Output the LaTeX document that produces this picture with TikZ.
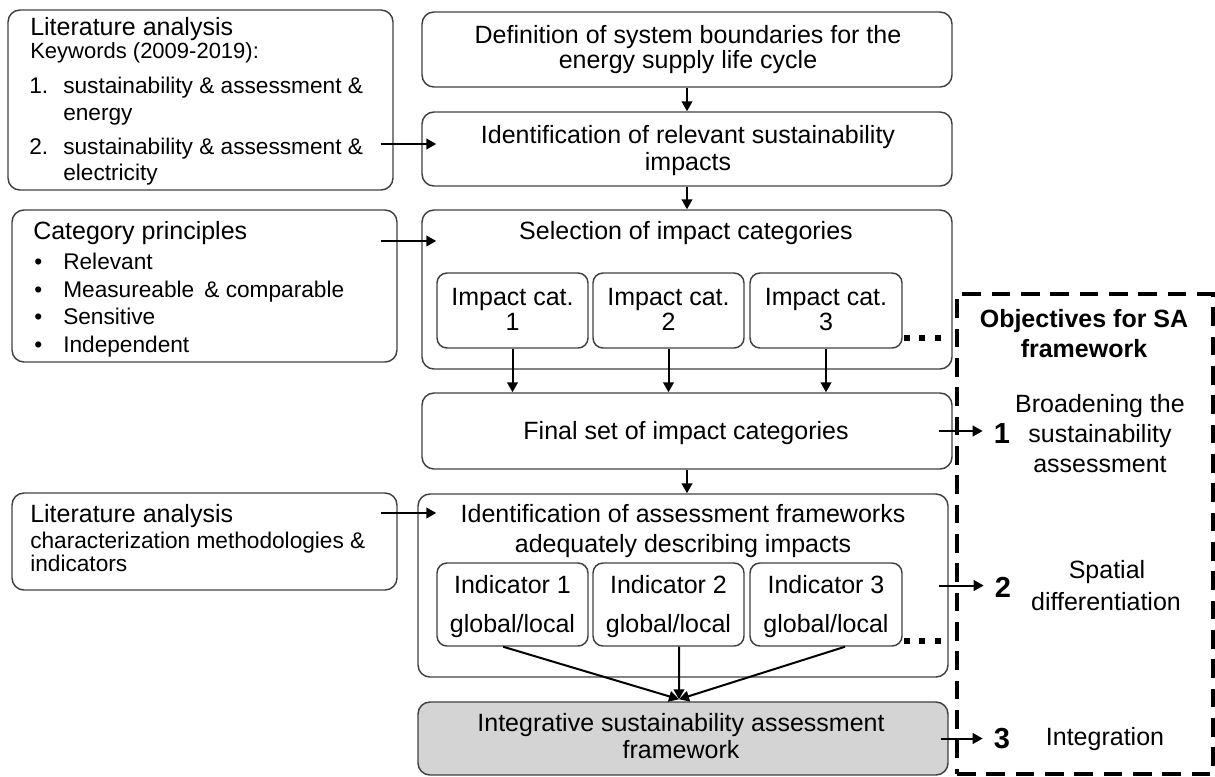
\documentclass[tikz,border=0pt]{standalone}
\usepackage{fontspec}
\setmainfont{Liberation Sans}
\usetikzlibrary{arrows.meta,fit,calc}
\begin{document}
\begin{tikzpicture}[x=0.75pt,y=-0.75pt,
  box/.style={draw=black!75, line width=1.1pt, rounded corners=9pt, inner sep=0pt},
  sbox/.style={box, rounded corners=7.5pt},
  arr/.style={draw=black, line width=1.5pt, -{Triangle[length=7.5pt,width=8pt]}},
  txt/.style={anchor=base, inner sep=0pt, font=\fontsize{18.75pt}{20pt}\selectfont},
  txtl/.style={txt, anchor=base west},
  txtm/.style={anchor=base west, inner sep=0pt, font=\fontsize{17pt}{19pt}\selectfont},
  txts/.style={anchor=base west, inner sep=0pt, font=\fontsize{16.5pt}{18pt}\selectfont},
  txtb/.style={txt, font=\fontsize{18.75pt}{20pt}\selectfont\bfseries},
  num/.style={anchor=base, inner ysep=0pt, inner xsep=8.25pt, font=\fontsize{21.75pt}{22pt}\selectfont\bfseries},
  objbox/.style={draw=black, line width=3pt, dash pattern=on 14pt off 8pt, inner sep=0pt}
]
\useasboundingbox (0,0) rectangle (1215,776);

% boxes
\node[box, fit={(8,10) (393,190)}] (A) {};
\node[box, fit={(422,12) (952,87)}] (B) {};
\node[box, fit={(422,112) (952,186)}] (C) {};
\node[box, fit={(12,210) (397,362)}] (D) {};
\node[box, fit={(422,210) (952,369)}] (E) {};
\node[sbox, fit={(437,273) (588,348)}] (ic1) {};
\node[sbox, fit={(593,273) (744,348)}] (ic2) {};
\node[sbox, fit={(750,273) (902,348)}] (ic3) {};
\node[box, fit={(422,393) (952,469)}] (F) {};
\node[box, fit={(12,493) (397,590)}] (G) {};
\node[box, fit={(418,494) (948,677)}] (H) {};
\node[sbox, fit={(437,563) (588,646)}] (in1) {};
\node[sbox, fit={(593,563) (744,646)}] (in2) {};
\node[sbox, fit={(750,563) (902,646)}] (in3) {};
\node[box, fill=black!17, fit={(418,702) (948,775)}] (I) {};
\node[objbox, fit={(957,294) (1213,774)}] (obj) {};

% dots
\foreach \xx in {904,919,935}{
  \fill (\xx,335) rectangle ++(6,6);
  \fill (\xx,638) rectangle ++(6,6);
}

% box A text
\node[txtl] (A1) at (30,35) {Literature analysis};
\node[txts] (A2) at (30,58) {Keywords (2009-2019):};
\node[txtm] (A3n) at (29,93) {1.};
\node[txtm] (A3) at (63,93) {sustainability \& assessment \&};
\node[txtm] (A4) at (63,120) {energy};
\node[txtm] (A5n) at (29,154) {2.};
\node[txtm] (A5) at (63,154) {sustainability \& assessment \&};
\node[txtm] (A6) at (63,180) {electricity};

% box D text
\node[txtl] (D1) at (33,239) {Category principles};
\node[txtm] (D2b) at (34,269) {\textbullet};
\node[txtm] (D2) at (63,269) {Relevant};
\node[txtm] (D3b) at (34,297) {\textbullet};
\node[txtm] (D3) at (63,297) {Measureable \,\& comparable};
\node[txtm] (D4b) at (34,324) {\textbullet};
\node[txtm] (D4) at (63,324) {Sensitive};
\node[txtm] (D5b) at (34,352) {\textbullet};
\node[txtm] (D5) at (63,352) {Independent};

% box G text
\node[txtl] (G1) at (30,522) {Literature analysis};
\node[txtm] (G2) at (30,548) {characterization methodologies \&};
\node[txtm] (G3) at (30,571) {indicators};

% centre column text
\node[txt] (B1) at (688,43) {Definition of system boundaries for the};
\node[txt] (B2) at (688,68) {energy supply life cycle};
\node[txt] (C1) at (688,143) {Identification of relevant sustainability};
\node[txt] (C2) at (688,170) {impacts};
\node[txt] (E1) at (686,239) {Selection of impact categories};
\node[txt] (ic1a) at (512.5,305) {Impact cat.};
\node[txt] (ic1b) at (512.5,330) {1};
\node[txt] (ic2a) at (668.5,305) {Impact cat.};
\node[txt] (ic2b) at (668.5,330) {2};
\node[txt] (ic3a) at (826,305) {Impact cat.};
\node[txt] (ic3b) at (826,330) {3};
\node[txt] (F1) at (686,439) {Final set of impact categories};
\node[txt] (H1) at (683,522) {Identification of assessment frameworks};
\node[txt] (H2) at (683,552) {adequately describing impacts};
\node[txt] (in1a) at (512.5,593) {Indicator 1};
\node[txt] (in1b) at (512.5,632) {global/local};
\node[txt] (in2a) at (668.5,593) {Indicator 2};
\node[txt] (in2b) at (668.5,632) {global/local};
\node[txt] (in3a) at (826,593) {Indicator 3};
\node[txt] (in3b) at (826,632) {global/local};
\node[txt] (I1) at (681,731) {Integrative sustainability assessment};
\node[txt] (I2) at (681,758) {framework};

% objectives
\node[txtb] (O1) at (1084,327) {Objectives for SA};
\node[txtb] (O2) at (1084,357) {framework};
\node[num] (n1) at (1002,443) {1};
\node[txt] (o1a) at (1100,412) {Broadening the};
\node[txt] (o1b) at (1100,442) {sustainability};
\node[txt] (o1c) at (1100,472) {assessment};
\node[num] (n2) at (1003,597) {2};
\node[txt] (o2a) at (1107,578) {Spatial};
\node[txt] (o2b) at (1106,610) {differentiation};
\node[num] (n3) at (1002,748) {3};
\node[txt] (o3a) at (1105,745) {Integration};

% connectors
\draw[arr] (B.south) -- (C.north);
\draw[arr] (C.south) -- (E.north);
\draw[arr] (F.south) -- (F.south |- H.north);
\draw[arr] ($(A.east)+(-13,44)$) -- ($(C.west)+(15,-5)$);
\draw[arr] ($(D.east)+(-17,-45)$) -- ($(E.west)+(15,-48.5)$);
\draw[arr] ($(G.east)+(-17,-28.5)$) -- ($(H.west)+(19,-72.5)$);
\draw[arr] (ic1.south) -- (ic1.south |- F.north);
\draw[arr] (ic2.south) -- (ic2.south |- F.north);
\draw[arr] (ic3.south) -- (ic3.south |- F.north);
\coordinate (conv) at ($(I.north)+(-4,-2)$);
\draw[arr] ([xshift=-7pt]in1.south) -- (conv);
\draw[arr] ([xshift=7.9pt]in2.south) -- (conv);
\draw[arr] ([xshift=14.25pt]in3.south) -- (conv);
\draw[arr] ([xshift=-10.5pt]F.east) -- (F.east -| n1.west);
\draw[arr] ([xshift=-7.5pt]H.east) -- (H.east -| n2.west);
\draw[arr] ([xshift=-6pt]I.east) -- (I.east -| n3.west);
\end{tikzpicture}
\end{document}
